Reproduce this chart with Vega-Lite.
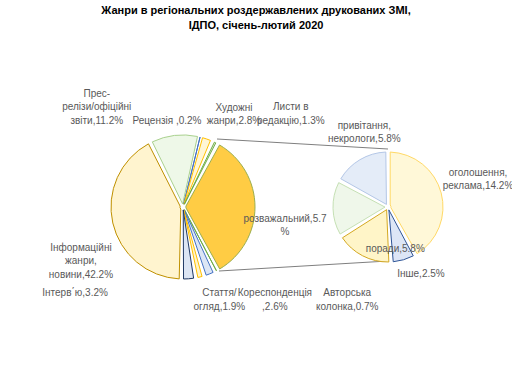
{
  "$schema": "https://vega.github.io/schema/vega-lite/v6.json",
  "width": 512,
  "height": 348,
  "autosize": {"type": "none"},
  "padding": {"top": 33, "left": 0, "right": 0, "bottom": 0},
  "background": "white",
  "title": {
    "text": ["Жанри в регіональних роздержавлених друкованих ЗМІ,", "ІДПО, січень-лютий 2020"],
    "font": "Liberation Sans",
    "fontSize": 11,
    "fontWeight": "bold",
    "color": "#000000",
    "anchor": "middle",
    "frame": "group",
    "offset": 2,
    "lineHeight": 15
  },
  "config": {
    "view": {"stroke": null},
    "text": {"font": "Liberation Sans", "fontSize": 10, "color": "#595959", "align": "center", "baseline": "middle", "lineBreak": "\n", "lineHeight": 13.5}
  },
  "datasets": {
    "left": [
      {"pie": "left", "n": 1, "g": "Інші жанри", "v": 34.0, "label": ""},
      {"pie": "left", "n": 2, "g": "Авторська колонка", "v": 0.7, "label": "Авторська\nколонка,0.7%"},
      {"pie": "left", "n": 3, "g": "Кореспонденція", "v": 2.6, "label": "Кореспонденція\n,2.6%"},
      {"pie": "left", "n": 4, "g": "Стаття/огляд", "v": 1.9, "label": "Стаття/\nогляд,1.9%"},
      {"pie": "left", "n": 5, "g": "Інтервʼю", "v": 3.2, "label": "Інтерв΄ю,3.2%"},
      {"pie": "left", "n": 6, "g": "Інформаційні жанри, новини", "v": 42.2, "label": "Інформаційні\nжанри,\nновини,42.2%"},
      {"pie": "left", "n": 7, "g": "Прес-релізи/офіційні звіти", "v": 11.2, "label": "Прес-\nрелізи/офіційні\nзвіти,11.2%"},
      {"pie": "left", "n": 8, "g": "Рецензія", "v": 0.2, "label": "Рецензія ,0.2%"},
      {"pie": "left", "n": 9, "g": "Художні жанри", "v": 2.8, "label": "Художні\nжанри,2.8%"},
      {"pie": "left", "n": 10, "g": "Листи в редакцію", "v": 1.3, "label": "Листи в\nредакцію,1.3%"}
    ],
    "right": [
      {"pie": "right", "n": 1, "g": "оголошення, реклама", "v": 14.2, "label": "оголошення,\nреклама,14.2%"},
      {"pie": "right", "n": 2, "g": "Інше", "v": 2.5, "label": "Інше,2.5%"},
      {"pie": "right", "n": 3, "g": "поради", "v": 5.8, "label": "поради,5.8%"},
      {"pie": "right", "n": 4, "g": "розважальний", "v": 5.7, "label": "розважальний,5.7\n%"},
      {"pie": "right", "n": 5, "g": "привітання, некрологи", "v": 5.8, "label": "привітання,\nнекрологи,5.8%"}
    ]
  },
  "layer": [
    {
      "data": {"name": "left"},
      "transform": [{"filter": "datum.n === 1"}],
      "mark": {"type": "rule", "color": "#7F7F7F", "strokeWidth": 1, "xOffset": 34, "y2Offset": 10},
      "encoding": {
        "x": {"field": "pie", "type": "nominal", "scale": {"type": "point", "domain": ["left", "right"], "range": [183, 388], "padding": 0}, "axis": null},
        "x2": {"datum": "right"},
        "y": {"datum": "top", "type": "nominal", "scale": {"type": "point", "domain": ["top", "bottom"], "range": [106, 238], "padding": 0}, "axis": null},
        "y2": {"datum": "top"}
      }
    },
    {
      "data": {"name": "left"},
      "transform": [{"filter": "datum.n === 1"}],
      "mark": {"type": "rule", "color": "#7F7F7F", "strokeWidth": 1, "xOffset": 36, "y2Offset": -10},
      "encoding": {
        "x": {"field": "pie", "type": "nominal", "scale": {"type": "point", "domain": ["left", "right"], "range": [183, 388], "padding": 0}, "axis": null},
        "x2": {"datum": "right"},
        "y": {"datum": "bottom", "type": "nominal", "scale": {"type": "point", "domain": ["top", "bottom"], "range": [106, 238], "padding": 0}, "axis": null},
        "y2": {"datum": "bottom"}
      }
    },
    {
      "data": {"name": "left"},
      "encoding": {
        "theta": {"field": "v", "type": "quantitative", "stack": true, "scale": {"range": [0.5027, 6.7859]}},
        "order": {"field": "n", "type": "quantitative"},
        "detail": {"field": "g", "type": "nominal"},
        "x": {"field": "pie", "type": "nominal", "scale": {"type": "point", "domain": ["left", "right"], "range": [183, 388], "padding": 0}, "axis": null}
      },
      "layer": [
        {
          "mark": {"type": "arc", "outerRadius": 72, "innerRadius": 3, "padAngle": 0.06, "strokeWidth": 1},
          "encoding": {
            "color": {"field": "g", "type": "nominal", "legend": null, "scale": {
              "domain": ["Інші жанри", "Авторська колонка", "Кореспонденція", "Стаття/огляд", "Інтервʼю", "Інформаційні жанри, новини", "Прес-релізи/офіційні звіти", "Рецензія", "Художні жанри", "Листи в редакцію"],
              "range": ["#FFCC44", "#E7F3DE", "#DCE6F5", "#FFF4CC", "#DCE5F4", "#FFF4CF", "#EEF8E8", "#DAE3F3", "#FFF6D6", "#E8F4E0"]}},
            "stroke": {"field": "g", "type": "nominal", "legend": null, "scale": {
              "domain": ["Інші жанри", "Авторська колонка", "Кореспонденція", "Стаття/огляд", "Інтервʼю", "Інформаційні жанри, новини", "Прес-релізи/офіційні звіти", "Рецензія", "Художні жанри", "Листи в редакцію"],
              "range": ["#9BAE4E", "#70AD47", "#4472C4", "#FFC000", "#1F3864", "#BF9000", "#A9D18E", "#4472C4", "#FFC000", "#70AD47"]}}
          }
        },
        {"mark": {"type": "text", "radius": 78, "dx": -77, "dy": -36}, "encoding": {"text": {"condition": {"test": "datum.n === 7", "field": "label"}, "value": ""}}},
        {"mark": {"type": "text", "radius": 78, "dx": -34.5, "dy": -10}, "encoding": {"text": {"condition": {"test": "datum.n === 8", "field": "label"}, "value": ""}}},
        {"mark": {"type": "text", "radius": 78, "dx": 25.5, "dy": -25.75}, "encoding": {"text": {"condition": {"test": "datum.n === 9", "field": "label"}, "value": ""}}},
        {"mark": {"type": "text", "radius": 78, "dx": 73, "dy": -29.75}, "encoding": {"text": {"condition": {"test": "datum.n === 10", "field": "label"}, "value": ""}}},
        {"mark": {"type": "text", "radius": 78, "dx": -26, "dy": 23.5}, "encoding": {"text": {"condition": {"test": "datum.n === 6", "field": "label"}, "value": ""}}},
        {"mark": {"type": "text", "radius": 78, "dx": -114, "dy": 8}, "encoding": {"text": {"condition": {"test": "datum.n === 5", "field": "label"}, "value": ""}}},
        {"mark": {"type": "text", "radius": 78, "dx": 18, "dy": 10.25}, "encoding": {"text": {"condition": {"test": "datum.n === 4", "field": "label"}, "value": ""}}},
        {"mark": {"type": "text", "radius": 78, "dx": 63, "dy": 13.75}, "encoding": {"text": {"condition": {"test": "datum.n === 3", "field": "label"}, "value": ""}}},
        {"mark": {"type": "text", "radius": 78, "dx": 128, "dy": 17.25}, "encoding": {"text": {"condition": {"test": "datum.n === 2", "field": "label"}, "value": ""}}}
      ]
    },
    {
      "data": {"name": "right"},
      "encoding": {
        "theta": {"field": "v", "type": "quantitative", "stack": true, "scale": {"range": [0, 6.2832]}},
        "order": {"field": "n", "type": "quantitative"},
        "detail": {"field": "g", "type": "nominal"},
        "x": {"field": "pie", "type": "nominal", "scale": {"type": "point", "domain": ["left", "right"], "range": [183, 388], "padding": 0}, "axis": null}
      },
      "layer": [
        {
          "mark": {"type": "arc", "outerRadius": 55, "innerRadius": 3, "padAngle": 0.08, "strokeWidth": 1},
          "encoding": {
            "color": {"field": "g", "type": "nominal", "legend": null, "scale": {
              "domain": ["оголошення, реклама", "Інше", "поради", "розважальний", "привітання, некрологи"],
              "range": ["#FFF8D8", "#DDE6F6", "#FFF5C8", "#EFF7EA", "#E4ECF8"]}},
            "stroke": {"field": "g", "type": "nominal", "legend": null, "scale": {
              "domain": ["оголошення, реклама", "Інше", "поради", "розважальний", "привітання, некрологи"],
              "range": ["#FFD966", "#2F5597", "#D4A820", "#C5E0B4", "#B4C7E7"]}}
          }
        },
        {"mark": {"type": "text", "radius": 60, "dx": 32, "dy": -18.75}, "encoding": {"text": {"condition": {"test": "datum.n === 1", "field": "label"}, "value": ""}}},
        {"mark": {"type": "text", "radius": 60, "dx": 16, "dy": 9}, "encoding": {"text": {"condition": {"test": "datum.n === 2", "field": "label"}, "value": ""}}},
        {"mark": {"type": "text", "radius": 60, "dx": 35, "dy": -11}, "encoding": {"text": {"condition": {"test": "datum.n === 3", "field": "label"}, "value": ""}}},
        {"mark": {"type": "text", "radius": 60, "dx": -43, "dy": 10.25}, "encoding": {"text": {"condition": {"test": "datum.n === 4", "field": "label"}, "value": ""}}},
        {"mark": {"type": "text", "radius": 60, "dx": 7, "dy": -29.75}, "encoding": {"text": {"condition": {"test": "datum.n === 5", "field": "label"}, "value": ""}}}
      ]
    }
  ],
  "resolve": {"scale": {"theta": "independent", "color": "independent", "stroke": "independent"}}
}
